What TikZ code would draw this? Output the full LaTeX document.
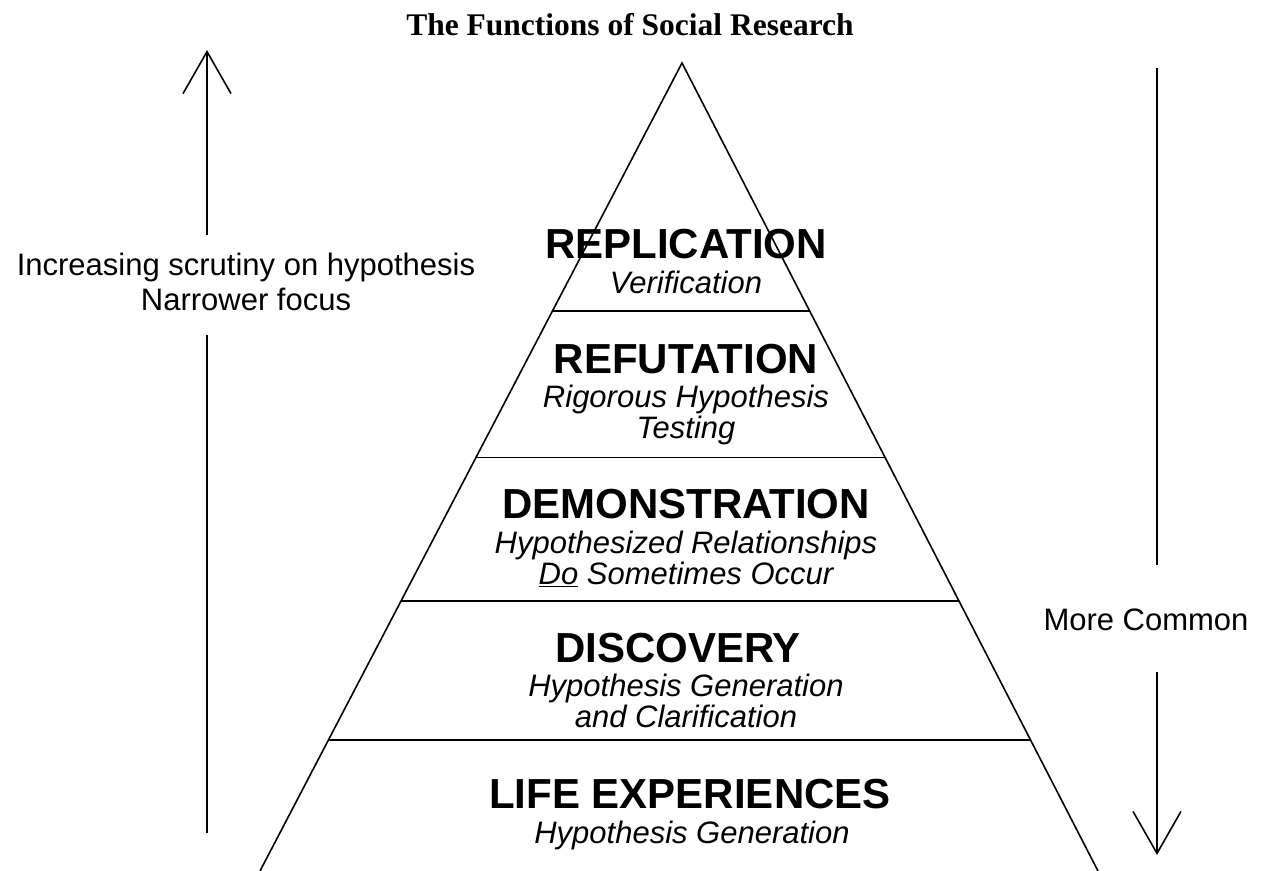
\documentclass[tikz,border=0pt]{standalone}
\usepackage{fontspec}
\setmainfont{Liberation Sans}
\newfontfamily\titlefont{Liberation Serif}
\usetikzlibrary{arrows.meta,calc}
\tikzset{
stage/.style={anchor=base, font=\fontsize{42bp}{48bp}\selectfont\bfseries},
stagesub/.style={anchor=base, align=center,
    font=\fontsize{31bp}{31bp}\selectfont\itshape},
sidenote/.style={anchor=base, align=center, font=\fontsize{31bp}{35bp}\selectfont},
headline/.style={anchor=base, font=\fontsize{31.5bp}{36bp}\selectfont\titlefont\bfseries},
barb/.style={-{Straight Barb[length=42bp,width=48bp]}}
}

\begin{document}
\begin{tikzpicture}[x=1bp, y=-1bp, line width=1.6bp]
	\useasboundingbox (0,0) rectangle (1261,871);
	\node[headline] (title) at (630,35) {The Functions of Social Research};
	% pyramid
	\coordinate (apex) at (682,63);
	\coordinate (baseL) at (260,871);
	\coordinate (baseR) at (1098,871);
	\draw (baseL) -- (apex) -- (baseR);
	\foreach \t in {0.307,0.488,0.666,0.838}
		\draw ($(apex)!\t!(baseL)$) -- ($(apex)!\t!(baseR)$);
	% multi-line nodes sit on the baseline of their last line
	\node[stage] (replication) at (686,258) {REPLICATION};
	\node[stagesub] (verification) at (686,293) {Verification};
	\node[stage] (refutation) at (686,373) {REFUTATION};
	\node[stagesub] (testing) at (686,438) {Rigorous Hypothesis\\Testing};
	\node[stage] (demonstration) at (686,518) {DEMONSTRATION};
	\node[stagesub] (occur) at (686,584) {Hypothesized Relationships\\\underline{Do} Sometimes Occur};
	\node[stage] (discovery) at (678,662) {DISCOVERY};
	\node[stagesub] (clarification) at (686,727) {Hypothesis Generation\\and Clarification};
	\node[stage] (life) at (690,808) {LIFE EXPERIENCES};
	\node[stagesub] (generation) at (692,843) {Hypothesis Generation};
	% side arrows
	\node[sidenote] (scrutiny) at (246,310) {Increasing scrutiny on hypothesis\\Narrower focus};
	\node[sidenote] (common) at (1146,630) {More Common};
	\coordinate (upfoot) at (207,833);
	\coordinate (upgapA) at (207,335);
	\coordinate (upgapB) at (207,235);
	\coordinate (uptip) at (207,50);
	\draw (upfoot) -- (upgapA);
	\draw[barb] (upgapB) -- (uptip);
	\coordinate (downtop) at (1157,68);
	\coordinate (downgapA) at (1157,565);
	\coordinate (downgapB) at (1157,672);
	\coordinate (downtip) at (1157,855);
	\draw (downtop) -- (downgapA);
	\draw[barb] (downgapB) -- (downtip);
\end{tikzpicture}
\end{document}
